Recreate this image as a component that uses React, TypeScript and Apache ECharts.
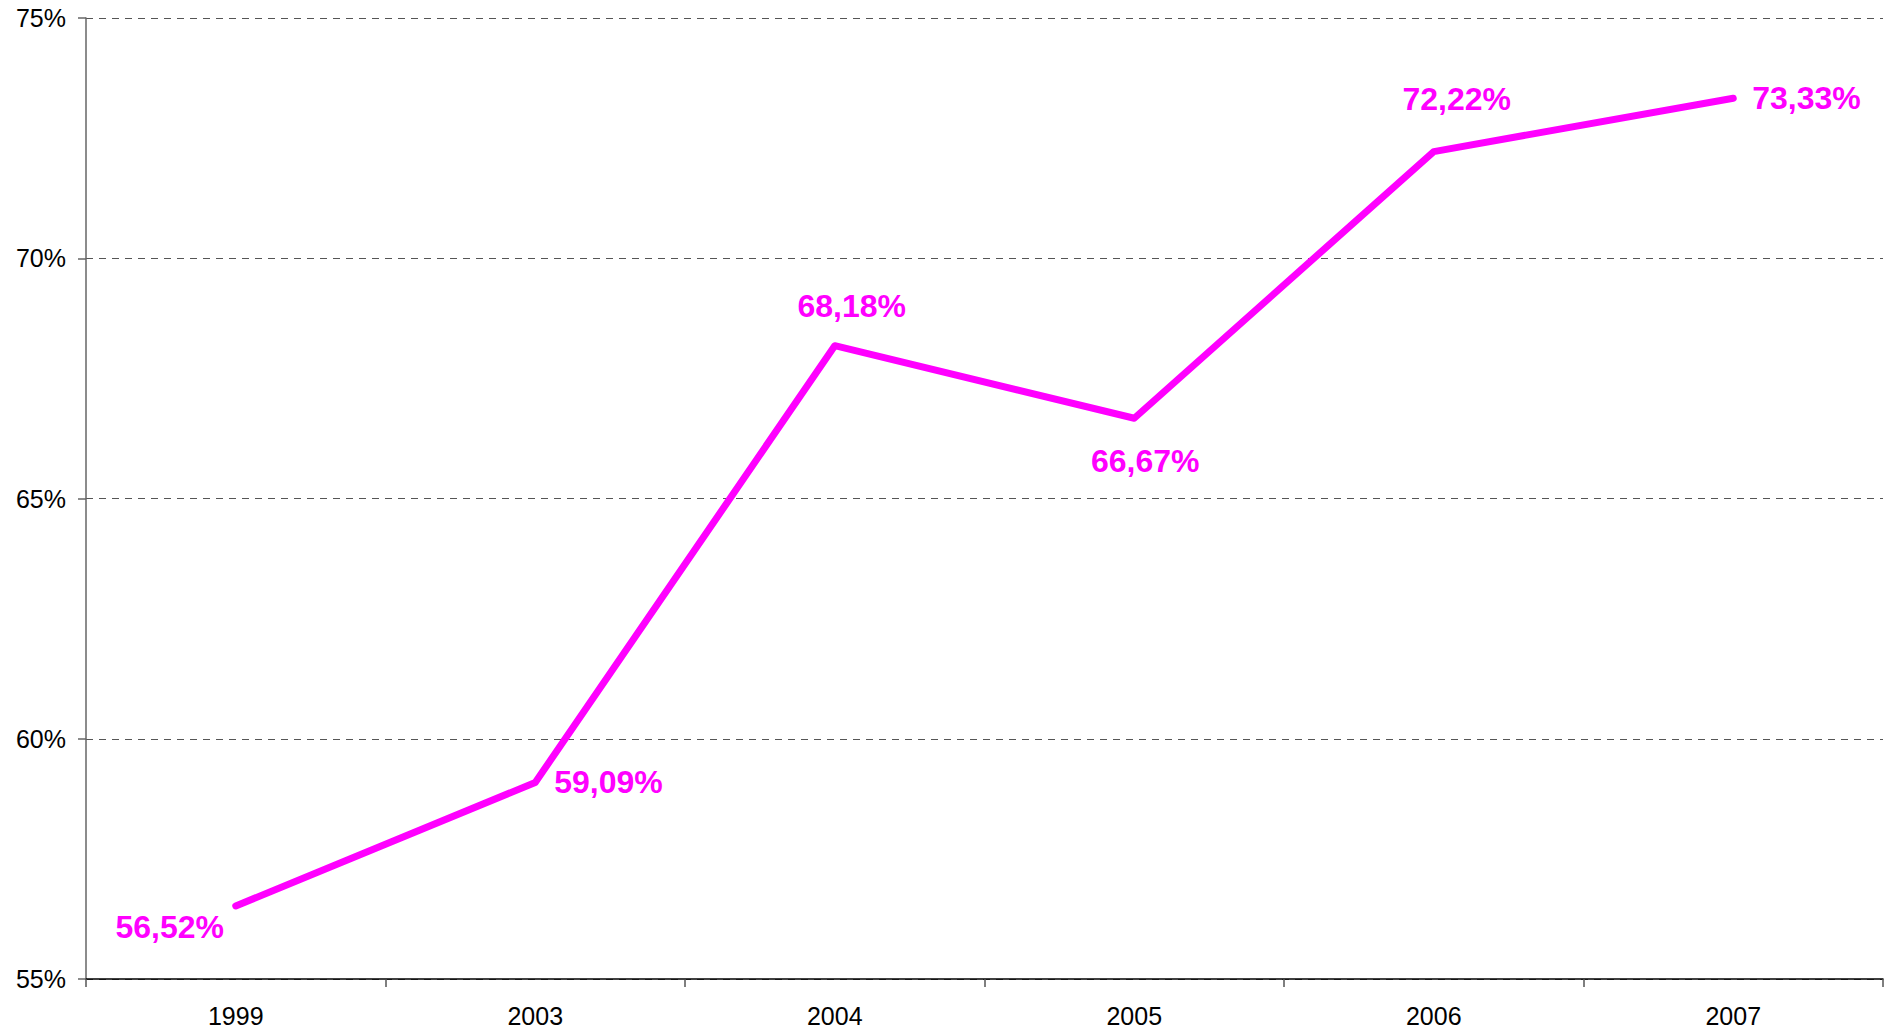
import React, { useEffect, useRef } from "react";
import * as echarts from "echarts";

const years = ["1999", "2003", "2004", "2005", "2006", "2007"];
const values = [56.52, 59.09, 68.18, 66.67, 72.22, 73.33];
const labelPositions = ["bottom", "right", "top", "bottom", "top", "right"];
const labelOffsets = [[-66, 0], [0, 0], [17, 0], [11, 0], [23, 0], [0, 0]];
const labelDistances = [4, 18, 23, 26, 36, 18];

const FONT = "'Liberation Sans', Arial, sans-serif";

export default function App() {
  const ref = useRef<HTMLDivElement>(null);
  useEffect(() => {
    const chart = echarts.init(ref.current!, null, { renderer: "svg" });
    chart.setOption({
      animation: false,
      backgroundColor: "#ffffff",
      grid: { left: 86, top: 18, right: 3, bottom: 56, containLabel: false },
      xAxis: {
        type: "category",
        data: years,
        boundaryGap: true,
        axisLine: { lineStyle: { color: "#000", width: 1.5 } },
        axisTick: { show: true, length: 8, alignWithLabel: false, lineStyle: { color: "#555", width: 1.5 } },
        axisLabel: { color: "#000", fontSize: 25, fontFamily: FONT, margin: 24 },
        splitLine: { show: false },
      },
      yAxis: {
        type: "value",
        min: 55,
        max: 75,
        interval: 5,
        axisLine: { show: true, lineStyle: { color: "#666", width: 1.5 } },
        axisTick: { show: true, length: 8, lineStyle: { color: "#666", width: 1.5 } },
        axisLabel: { color: "#000", fontSize: 25, fontFamily: FONT, margin: 20, formatter: (v: number) => v + "%" },
        splitLine: { show: true, lineStyle: { color: "#555", type: [7, 6], width: 1 } },
      },
      series: [
        {
          type: "line",
          data: values.map((v, i) => ({
            value: v,
            label: {
              show: true,
              position: labelPositions[i],
              distance: labelDistances[i],
              offset: labelOffsets[i],
            },
          })),
          symbol: "circle",
          symbolSize: 2,
          showSymbol: true,
          lineStyle: { color: "#ff00ff", width: 7, cap: "round", join: "round" },
          itemStyle: { color: "#ff00ff", borderWidth: 0 },
          label: {
            show: true,
            color: "#ff00ff",
            fontSize: 32,
            fontWeight: "bold",
            fontFamily: FONT,
            formatter: (p: any) => Number(p.value).toFixed(2).replace(".", ",") + "%",
          },
        },
      ],
    });
    return () => chart.dispose();
  }, []);
  return (
    <div
      ref={ref}
      style={{ position: "fixed", left: 0, top: 0, width: 1886, height: 1035 }}
    />
  );
}
